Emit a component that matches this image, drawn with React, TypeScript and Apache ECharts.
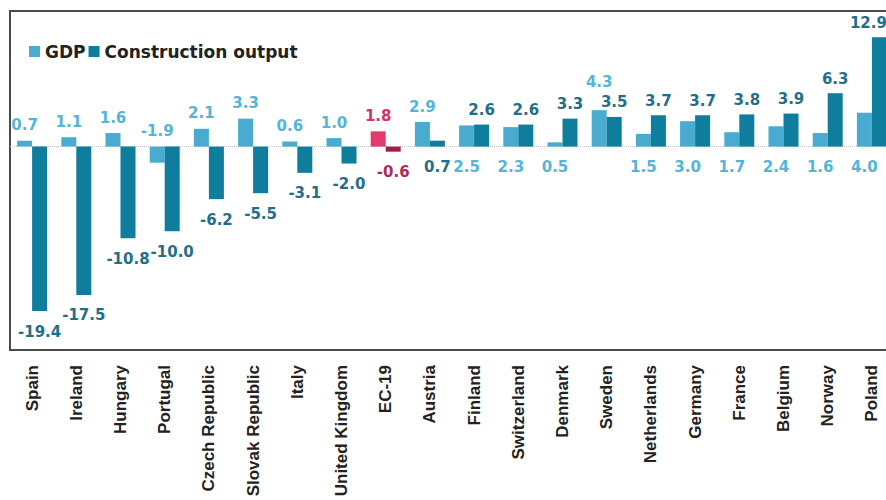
import React, { useEffect, useRef } from "react";
import * as echarts from "echarts";

// Annual change (%) by country
const categories = [
  "Spain", "Ireland", "Hungary", "Portugal", "Czech Republic", "Slovak Republic",
  "Italy", "United Kingdom", "EC-19", "Austria", "Finland", "Switzerland",
  "Denmark", "Sweden", "Netherlands", "Germany", "France", "Belgium", "Norway", "Poland",
];
const gdp = [0.7, 1.1, 1.6, -1.9, 2.1, 3.3, 0.6, 1.0, 1.8, 2.9, 2.5, 2.3, 0.5, 4.3, 1.5, 3.0, 1.7, 2.4, 1.6, 4.0];
const construction = [-19.4, -17.5, -10.8, -10.0, -6.2, -5.5, -3.1, -2.0, -0.6, 0.7, 2.6, 2.6, 3.3, 3.5, 3.7, 3.7, 3.8, 3.9, 6.3, 12.9];

// Aggregate shown in its own colours
const aggregate = "EC-19";
// Value labels that sit under the zero line instead of above the bar
const gdpLabelsUnderAxis = new Set(["Finland", "Switzerland", "Denmark", "Netherlands", "Germany", "France", "Belgium", "Norway", "Poland"]);
const constructionLabelsUnderAxis = new Set(["Austria"]);
// GDP label lifted clear of the neighbouring construction label
const gdpLabelsRaised = new Set(["Sweden"]);
// Label nudged inwards so it stays inside the right edge
const constructionLabelsNudged = new Set(["Poland"]);

const GDP_COLOR = "#48abcf";
const CONSTR_COLOR = "#0f7d9c";
const GDP_LABEL = "#55b5d8";
const CONSTR_LABEL = "#1f6f8c";
const AGG_GDP = "#e23a6e";
const AGG_CONSTR = "#a21d45";
const AGG_GDP_LABEL = "#d8306a";
const AGG_CONSTR_LABEL = "#b02a56";

const labelFont = { fontFamily: "DejaVu Sans", fontWeight: "bold" as const, fontSize: 15 };
const fmt = (p: any) => Number(p.value).toFixed(1);

export default function App() {
  const ref = useRef<HTMLDivElement>(null);

  useEffect(() => {
    if (!ref.current) return;
    const chart = echarts.init(ref.current, null, { renderer: "svg" });

    const gdpData = gdp.map((v, i) => {
      const name = categories[i];
      const isAgg = name === aggregate;
      const under = gdpLabelsUnderAxis.has(name);
      return {
        value: v,
        itemStyle: { color: isAgg ? AGG_GDP : GDP_COLOR },
        label: {
          position: under ? "bottom" : "top",
          distance: under ? 13 : gdpLabelsRaised.has(name) ? 21 : 8,
          color: isAgg ? AGG_GDP_LABEL : GDP_LABEL,
        },
      };
    });

    const constrData = construction.map((v, i) => {
      const name = categories[i];
      const isAgg = name === aggregate;
      const under = v < 0 || constructionLabelsUnderAxis.has(name);
      return {
        value: v,
        itemStyle: { color: isAgg ? AGG_CONSTR : CONSTR_COLOR },
        label: {
          position: under ? "bottom" : "top",
          distance: under ? 13 : 7,
          offset: constructionLabelsNudged.has(name) ? [-11, 0] : [0, 0],
          color: isAgg ? AGG_CONSTR_LABEL : CONSTR_LABEL,
        },
      };
    });

    chart.setOption({
      animation: false,
      backgroundColor: "#ffffff",
      grid: {
        left: 10,
        top: 11,
        right: -8,
        bottom: 150,
        outerBoundsMode: "none",
        containLabel: false,
        show: true,
        borderColor: "#4a4a4a",
        borderWidth: 2,
        backgroundColor: "transparent",
      },
      legend: {
        left: 24,
        top: 38,
        icon: "rect",
        itemWidth: 11,
        itemHeight: 11,
        itemGap: 3,
        textStyle: { fontFamily: "DejaVu Sans", fontWeight: "bold", fontSize: 17, color: "#222222" },
        data: [
          { name: "GDP", itemStyle: { color: GDP_COLOR } },
          { name: "Construction output", itemStyle: { color: CONSTR_COLOR } },
        ],
      },
      xAxis: {
        type: "category",
        data: categories,
        axisLine: { show: false },
        axisTick: { show: false },
        axisLabel: {
          interval: 0,
          rotate: 90,
          margin: 15,
          fontFamily: "Liberation Sans",
          fontWeight: "bold",
          fontSize: 17,
          color: "#222222",
        },
      },
      yAxis: {
        type: "value",
        min: -24,
        max: 16,
        interval: 24,
        axisLabel: { show: false },
        axisLine: { show: false },
        axisTick: { show: false },
        splitLine: {
          show: true,
          showMinLine: false,
          showMaxLine: false,
          lineStyle: { color: "#c4c4c4", type: "dotted", width: 1 },
        },
      },
      series: [
        {
          name: "GDP",
          type: "bar",
          barWidth: 15,
          barGap: "0%",
          data: gdpData,
          label: { show: true, formatter: fmt, ...labelFont },
        },
        {
          name: "Construction output",
          type: "bar",
          barWidth: 15,
          data: constrData,
          label: { show: true, formatter: fmt, ...labelFont },
        },
      ],
    });

    return () => chart.dispose();
  }, []);

  return (
    <div
      ref={ref}
      style={{ position: "absolute", left: 0, top: 0, width: 886, height: 500 }}
    />
  );
}
